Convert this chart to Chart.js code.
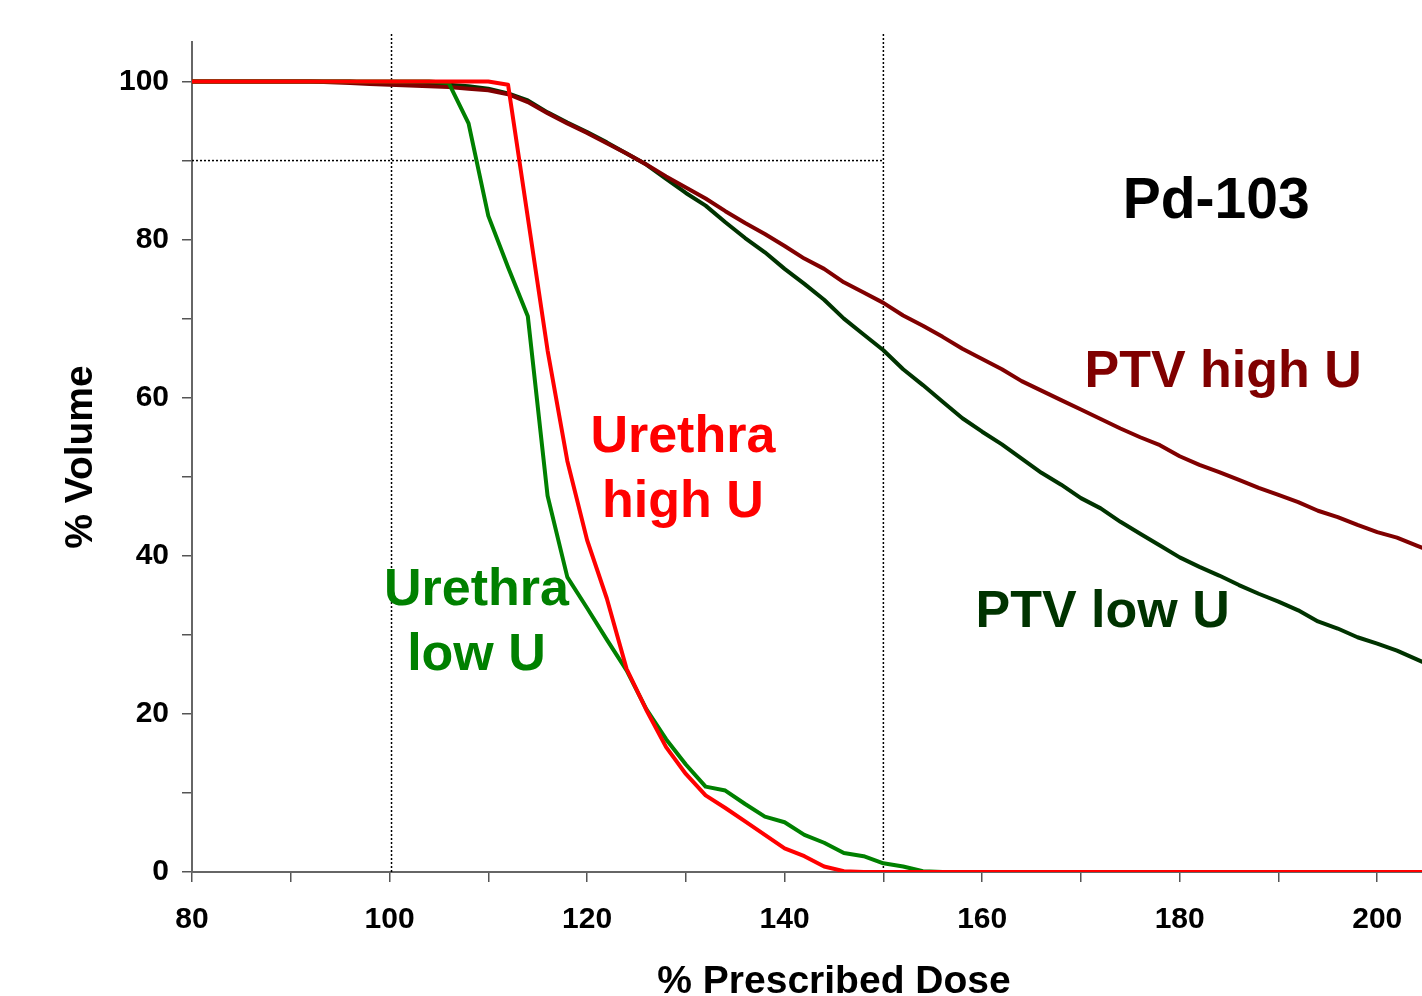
<!DOCTYPE html>
<html>
<head>
<meta charset="utf-8">
<script src="https://cdn.jsdelivr.net/npm/chart.js@4"></script>
<style>
    html, body { margin: 0; padding: 0; background: #fff; overflow: hidden; }
    #wrap { width: 1422px; height: 996px; overflow: hidden; }
</style>
</head>
<body>
<div id="wrap">
    <canvas id="chart" width="1496" height="996"></canvas>
</div>
<script>
// % prescribed dose, every 2 units
const dose = [
    80, 82, 84, 86, 88, 90, 92, 94, 96, 98,
    100, 102, 104, 106, 108, 110, 112, 114, 116, 118,
    120, 122, 124, 126, 128, 130, 132, 134, 136, 138,
    140, 142, 144, 146, 148, 150, 152, 154, 156, 158,
    160, 162, 164, 166, 168, 170, 172, 174, 176, 178,
    180, 182, 184, 186, 188, 190, 192, 194, 196, 198,
    200, 202, 204, 206, 208, 210
];

const ptvHighU = [
    100, 100, 100, 100, 100, 100, 100, 99.9, 99.8, 99.7,
    99.6, 99.5, 99.4, 99.3, 99.1, 98.9, 98.4, 97.4, 96.0, 94.7,
    93.5, 92.2, 90.9, 89.5, 88.0, 86.6, 85.2, 83.6, 82.1, 80.7,
    79.2, 77.6, 76.3, 74.6, 73.3, 72.0, 70.4, 69.1, 67.7, 66.2,
    64.9, 63.6, 62.1, 60.9, 59.7, 58.5, 57.3, 56.1, 55.0, 54.0,
    52.6, 51.5, 50.6, 49.6, 48.6, 47.7, 46.8, 45.7, 44.9, 43.9,
    43.0, 42.3, 41.3, 40.3, 39.4, 38.5
];

const ptvLowU = [
    100, 100, 100, 100, 100, 100, 100, 100, 100, 99.8,
    99.7, 99.6, 99.6, 99.6, 99.4, 99.1, 98.5, 97.6, 96.1, 94.8,
    93.6, 92.3, 90.9, 89.5, 87.7, 85.9, 84.3, 82.2, 80.2, 78.4,
    76.3, 74.4, 72.4, 70.0, 68.0, 66.0, 63.6, 61.6, 59.5, 57.4,
    55.7, 54.1, 52.3, 50.5, 49.0, 47.3, 46.0, 44.3, 42.8, 41.3,
    39.8, 38.6, 37.5, 36.3, 35.2, 34.2, 33.1, 31.7, 30.8, 29.7,
    28.9, 28.0, 26.9, 25.8, 24.8, 23.8
];

const urethraHighU = [
    100, 100, 100, 100, 100, 100, 100, 100, 100, 100,
    100, 100, 100, 100, 100, 100, 99.6, 82.8, 66.0, 52.0,
    42.0, 34.6, 25.7, 20.5, 15.8, 12.4, 9.7, 8.1, 6.4, 4.7,
    3.0, 2.0, 0.7, 0.1, 0, 0, 0, 0, 0, 0,
    0, 0, 0, 0, 0, 0, 0, 0, 0, 0,
    0, 0, 0, 0, 0, 0, 0, 0, 0, 0,
    0, 0, 0, 0, 0, 0
];

const urethraLowU = [
    100, 100, 100, 100, 100, 100, 100, 100, 100, 100,
    100, 100, 100, 99.8, 94.7, 83.0, 76.5, 70.3, 47.6, 37.3,
    33.4, 29.4, 25.5, 20.6, 16.8, 13.6, 10.8, 10.3, 8.6, 7.0,
    6.3, 4.7, 3.7, 2.4, 2.0, 1.1, 0.7, 0.1, 0, 0,
    0, 0, 0, 0, 0, 0, 0, 0, 0, 0,
    0, 0, 0, 0, 0, 0, 0, 0, 0, 0,
    0, 0, 0, 0, 0, 0
];

// dotted reference lines
const refDoses = [100.2, 150];
const refVolume = 90;
const refTop = 106.1;

// curve labels: text lines, anchor (dose, volume), font size, colour
const curveLabels = [
    { lines: ["Pd-103"], x: 183.7, y: 82.7, size: 57, color: "#000000" },
    { lines: ["PTV high U"], x: 184.4, y: 61.4, size: 52, color: "#800000" },
    { lines: ["Urethra", "high U"], x: 129.7, y: 53.1, size: 52, color: "#ff0000" },
    { lines: ["Urethra", "low U"], x: 108.8, y: 33.8, size: 52, color: "#008000" },
    { lines: ["PTV low U"], x: 172.2, y: 31.0, size: 52, color: "#003300" }
];

const FONT = "'Liberation Sans', Arial, Helvetica, sans-serif";

function points(ys) {
    return dose.map((d, i) => ({ x: d, y: ys[i] }));
}

function curve(label, ys, color) {
    return {
        label: label,
        data: points(ys),
        borderColor: color,
        borderWidth: 4,
        borderJoinStyle: "round",
        pointRadius: 0,
        tension: 0
    };
}

function refLine(data) {
    return {
        label: "ref",
        data: data,
        borderColor: "#000000",
        borderWidth: 1.5,
        borderDash: [2, 2],
        pointRadius: 0,
        tension: 0,
        clip: false
    };
}

const datasets = [
    curve("Urethra high U", urethraHighU, "#ff0000"),
    curve("Urethra low U", urethraLowU, "#008000"),
    curve("PTV high U", ptvHighU, "#800000"),
    curve("PTV low U", ptvLowU, "#003300")
];

refDoses.forEach(d => {
    datasets.push(refLine([{ x: d, y: 0 }, { x: d, y: refTop }]));
});
datasets.push(refLine([{ x: 80, y: refVolume }, { x: refDoses[1], y: refVolume }]));

const labelPlugin = {
    id: "curveLabels",
    afterDatasetsDraw(chart) {
        const ctx = chart.ctx;
        const xs = chart.scales.x;
        const ys = chart.scales.y;
        ctx.save();
        ctx.textAlign = "center";
        ctx.textBaseline = "alphabetic";
        curveLabels.forEach(l => {
            ctx.font = "bold " + l.size + "px " + FONT;
            ctx.fillStyle = l.color;
            const px = xs.getPixelForValue(l.x);
            const py = ys.getPixelForValue(l.y);
            l.lines.forEach((t, i) => {
                ctx.fillText(t, px, py + i * 65);
            });
        });
        ctx.restore();
    }
};

const tickFont = { family: FONT, size: 30, weight: "bold" };
const titleFont = { family: FONT, size: 39, weight: "bold" };

function everyOther(v) {
    return v % 20 === 0 ? v : "";
}

const chart = new Chart(document.getElementById("chart").getContext("2d"), {
    type: "line",
    data: { datasets: datasets },
    options: {
        responsive: false,
        animation: false,
        layout: { padding: { top: 42, right: 5, left: 0, bottom: 0 } },
        plugins: {
            legend: { display: false },
            tooltip: { enabled: false }
        },
        scales: {
            x: {
                type: "linear",
                min: 80,
                max: 210,
                ticks: {
                    stepSize: 10,
                    includeBounds: false,
                    autoSkip: false,
                    maxRotation: 0,
                    callback: everyOther,
                    color: "#000000",
                    font: tickFont,
                    padding: 20
                },
                grid: {
                    drawOnChartArea: false,
                    drawTicks: true,
                    tickLength: 10,
                    color: "#555555",
                    lineWidth: 1.5
                },
                border: { display: true, color: "#666666", width: 2 },
                title: {
                    display: true,
                    text: "% Prescribed Dose",
                    color: "#000000",
                    font: { ...titleFont, lineHeight: 1 },
                    padding: { top: 0, bottom: -6 }
                },
                afterFit(scale) { scale.height = 124; }
            },
            y: {
                min: 0,
                max: 105,
                ticks: {
                    stepSize: 10,
                    includeBounds: false,
                    autoSkip: false,
                    callback: everyOther,
                    color: "#000000",
                    font: tickFont,
                    padding: 13
                },
                grid: {
                    drawOnChartArea: false,
                    drawTicks: true,
                    tickLength: 10,
                    color: "#555555",
                    lineWidth: 1.5
                },
                border: { display: true, color: "#666666", width: 2 },
                title: {
                    display: true,
                    text: "% Volume",
                    color: "#000000",
                    font: { ...titleFont, lineHeight: 1 },
                    padding: { top: 62, bottom: 0 }
                },
                afterFit(scale) { scale.width = 192; }
            }
        }
    },
    plugins: [labelPlugin]
});
</script>
</body>
</html>
